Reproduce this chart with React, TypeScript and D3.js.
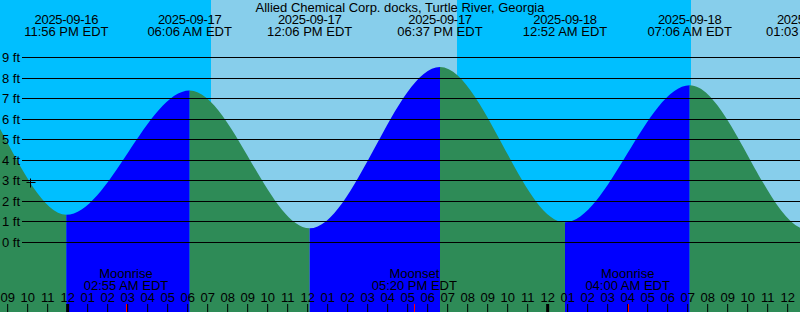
import React from "react";
import * as d3 from "d3";

const title = "Allied Chemical Corp. docks, Turtle River, Georgia";
const timeZone = "EDT";

// Tide extremes (first and last two lie outside the visible window)
const tideDates = [
  "2025-09-16", "2025-09-16", "2025-09-16", "2025-09-17", "2025-09-17",
  "2025-09-17", "2025-09-18", "2025-09-18", "2025-09-18", "2025-09-18",
];
const tideTimes = [
  "11:35 AM", "05:50 PM", "11:56 PM", "06:06 AM", "12:06 PM",
  "06:37 PM", "12:52 AM", "07:06 AM", "01:03 PM", "07:20 PM",
];
const tideHeights = [0.6, 8.75, 1.35, 7.4, 0.69, 8.54, 0.98, 7.65, 0.61, 8.4];

// Sun events
const sunDates = ["2025-09-17", "2025-09-17", "2025-09-18"];
const sunTimes = ["07:10 AM", "07:28 PM", "07:10 AM"];
const sunKinds = ["rise", "set", "rise"];

// Moon events
const moonDates = ["2025-09-17", "2025-09-17", "2025-09-18"];
const moonTimes = ["02:55 AM", "05:20 PM", "04:00 AM"];
const moonKinds = ["Moonrise", "Moonset", "Moonrise"];

// Current-time marker
const nowDate = "2025-09-16";
const nowTime = "10:07 PM";
const nowHeight = 2.91;

// Window and height ticks
const windowStart = { date: "2025-09-16", time: "08:37 PM" };
const windowEnd = { date: "2025-09-18", time: "12:37 PM" };
const feetTicks = [0, 1, 2, 3, 4, 5, 6, 7, 8, 9];

const W = 800;
const H = 312;
const NIGHT = "#00BFFF";
const DAY = "#87CEEB";
const RISING = "#0000FF";
const FALLING = "#2E8B57";
const FONT = "'Liberation Sans', Arial, Helvetica, sans-serif";

function toHours(date: string, time: string): number {
  const day = +date.slice(8, 10) - 17;
  const [hm, ap] = time.split(" ");
  let [hh, mm] = hm.split(":").map(Number);
  if (ap === "PM" && hh !== 12) hh += 12;
  if (ap === "AM" && hh === 12) hh = 0;
  return day * 24 + hh + mm / 60;
}

export default function App() {
  const t0 = toHours(windowStart.date, windowStart.time);
  const t1 = toHours(windowEnd.date, windowEnd.time);
  const x = d3.scaleLinear().domain([t0, t1]).range([0, W]);
  const y = d3.scaleLinear().domain([0, 9]).range([242.5, 57.5]);

  const tides = tideTimes.map((tm, i) => ({
    t: toHours(tideDates[i], tm),
    h: tideHeights[i],
    date: tideDates[i],
    time: tm,
  }));
  const labelled = tides.filter((d) => x(d.t) > -30 && x(d.t) < W + 30);

  const area = d3
    .area<{ t: number; h: number }>()
    .x((d) => x(d.t))
    .y0(H)
    .y1((d) => y(d.h))
    .curve(d3.curveMonotoneX);
  const areaPath = area(tides) || "";

  const sun = sunTimes.map((tm, i) => ({ t: toHours(sunDates[i], tm), kind: sunKinds[i] }));
  const dayRects: { a: number; b: number }[] = [];
  let start: number | null = sun[0].kind === "set" ? t0 : null;
  sun.forEach((s) => {
    if (s.kind === "rise") start = s.t;
    else if (start !== null) {
      dayRects.push({ a: start, b: s.t });
      start = null;
    }
  });
  if (start !== null) dayRects.push({ a: start, b: t1 });

  const moon = moonTimes.map((tm, i) => ({
    t: toHours(moonDates[i], tm),
    kind: moonKinds[i],
    time: tm,
  }));

  const hours = d3.range(Math.ceil(t0), Math.floor(t1) + 1);
  const fmtHour = (hr: number) => {
    const h24 = ((hr % 24) + 24) % 24;
    const h12 = h24 % 12 === 0 ? 12 : h24 % 12;
    return String(h12).padStart(2, "0");
  };

  const nowX = Math.floor(x(toHours(nowDate, nowTime))) + 0.5;
  const nowY = Math.floor(y(nowHeight)) + 0.5;

  return (
    <svg
      width={W}
      height={H}
      style={{ position: "absolute", left: 0, top: 0, display: "block" }}
      fontFamily={FONT}
      fontSize={13}
    >
      <defs>
        {tides.slice(0, -1).map((d, i) => (
          <clipPath id={`seg${i}`} key={i}>
            <rect x={x(d.t)} y={0} width={x(tides[i + 1].t) - x(d.t)} height={H} />
          </clipPath>
        ))}
      </defs>
      <rect x={0} y={0} width={W} height={H} fill={NIGHT} />
      {dayRects.map((r, i) => (
        <rect key={i} x={x(r.a)} y={0} width={x(r.b) - x(r.a)} height={H} fill={DAY} />
      ))}
      {tides.slice(0, -1).map((d, i) => (
        <path
          key={i}
          d={areaPath}
          clipPath={`url(#seg${i})`}
          fill={tides[i + 1].h > d.h ? RISING : FALLING}
        />
      ))}
      {feetTicks.map((f) => {
        const yy = Math.floor(y(f)) + 0.5;
        return (
          <g key={f}>
            <line x1={22} x2={W} y1={yy} y2={yy} stroke="#000" strokeWidth={1} />
            <text x={2} y={yy + 4} fill="#000">{`${f} ft`}</text>
          </g>
        );
      })}
      <text x={W / 2} y={12} textAnchor="middle" fill="#000">{title}</text>
      {labelled.map((d, i) => (
        <g key={i}>
          <text x={x(d.t)} y={24} textAnchor="middle" fill="#000" letterSpacing={-0.3}>{d.date}</text>
          <text x={x(d.t)} y={36} textAnchor="middle" fill="#000">{`${d.time} ${timeZone}`}</text>
        </g>
      ))}
      {moon.map((m, i) => (
        <g key={i}>
          <text x={x(m.t)} y={278} textAnchor="middle" fill="#000">{m.kind}</text>
          <text x={x(m.t)} y={290} textAnchor="middle" fill="#000">{`${m.time} ${timeZone}`}</text>
        </g>
      ))}
      {hours.map((hr) => (
        <text key={hr} x={x(hr)} y={302} textAnchor="middle" fill="#000">{fmtHour(hr)}</text>
      ))}
      {hours.map((hr) => {
        const midnight = ((hr % 24) + 24) % 24 === 0;
        return (
          <line
            key={hr}
            x1={x(hr)}
            x2={x(hr)}
            y1={304}
            y2={H}
            stroke="#000"
            strokeWidth={midnight ? 3 : 1}
          />
        );
      })}
      {moon.map((m, i) => {
        const mx = Math.round(x(m.t)) + 0.5;
        return <line key={i} x1={mx} x2={mx} y1={304} y2={H} stroke="#FF0000" strokeWidth={1} />;
      })}
      <path
        d={`M${nowX - 4},${nowY}H${nowX + 5}M${nowX},${nowY - 4}V${nowY + 5}`}
        stroke="#000"
        strokeWidth={1}
        fill="none"
      />
    </svg>
  );
}
